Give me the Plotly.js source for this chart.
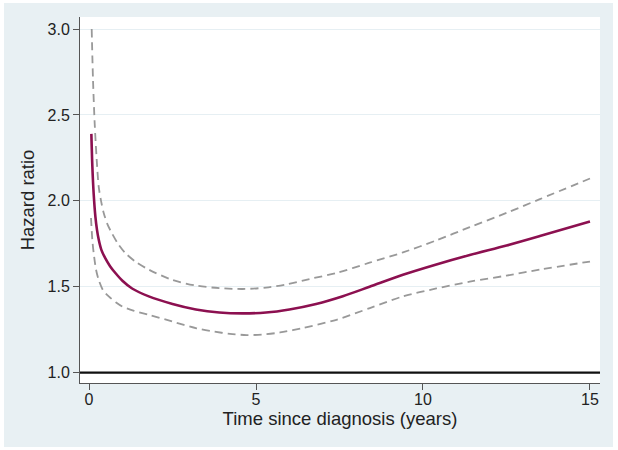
<!DOCTYPE html>
<html>
<head>
<meta charset="utf-8">
<script src="https://cdn.plot.ly/plotly-3.0.1.min.js"></script>
<style>
html,body{margin:0;padding:0;background:#ffffff;width:618px;height:450px;overflow:hidden;}
#chart{position:absolute;left:4px;top:3px;width:609px;height:444px;}
</style>
</head>
<body>
<div id="chart"></div>
<script>
// Hazard ratio estimate
const hrX = [0.07, 0.10, 0.14, 0.19, 0.24, 0.29, 0.37, 0.49, 0.63, 0.79, 1.0, 1.29, 1.79, 2.5, 3.2, 3.9, 4.6, 5.3, 6.0, 6.8, 7.6, 8.4, 9.4, 10.4, 11.4, 12.5, 13.5, 15];
const hrY = [2.39, 2.20, 2.04, 1.91, 1.83, 1.775, 1.715, 1.665, 1.62, 1.58, 1.535, 1.49, 1.444, 1.40, 1.368, 1.350, 1.345, 1.350, 1.368, 1.400, 1.445, 1.50, 1.57, 1.63, 1.685, 1.74, 1.795, 1.88];
// Upper confidence limit
const upX = [0.08, 0.12, 0.17, 0.23, 0.29, 0.36, 0.44, 0.55, 0.69, 0.87, 1.09, 1.4, 1.79, 2.49, 3.2, 3.9, 4.6, 5.3, 5.9, 6.6, 7.4, 8.4, 9.4, 10.4, 11.4, 12.5, 13.5, 15];
const upY = [3.0, 2.7, 2.45, 2.24, 2.083, 2.0, 1.93, 1.865, 1.81, 1.75, 1.696, 1.645, 1.60, 1.54, 1.507, 1.492, 1.487, 1.495, 1.513, 1.545, 1.58, 1.64, 1.70, 1.77, 1.847, 1.93, 2.01, 2.13];
// Lower confidence limit
const loX = [0.06, 0.10, 0.14, 0.21, 0.29, 0.42, 0.59, 0.8, 1.0, 1.35, 1.79, 2.49, 3.22, 3.72, 4.22, 4.72, 5.2, 5.72, 6.41, 7.41, 8.41, 9.4, 10.4, 11.4, 12.5, 13.5, 15];
const loY = [1.90, 1.77, 1.696, 1.60, 1.54, 1.48, 1.444, 1.41, 1.385, 1.36, 1.337, 1.298, 1.258, 1.240, 1.226, 1.219, 1.222, 1.234, 1.26, 1.308, 1.376, 1.444, 1.49, 1.53, 1.565, 1.60, 1.647];

const xTicks = [0, 5, 10, 15];
const xTickText = ['0', '5', '10', '15'];
const yTicks = [1.0, 1.5, 2.0, 2.5, 3.0];
const yTickText = ['1.0', '1.5', '2.0', '2.5', '3.0'];
const refLine = 1.0;

const dashStyle = {color: '#999999', width: 1.8, dash: '8px,5px', shape: 'spline', smoothing: 0.8};

const traces = [
  {x: upX, y: upY, mode: 'lines', line: dashStyle, hoverinfo: 'skip', showlegend: false},
  {x: loX, y: loY, mode: 'lines', line: dashStyle, hoverinfo: 'skip', showlegend: false},
  {x: hrX, y: hrY, mode: 'lines', line: {color: '#8c1050', width: 2.6, shape: 'spline', smoothing: 0.8}, hoverinfo: 'skip', showlegend: false}
];

const fam = 'Liberation Sans, Arial, sans-serif';
const tickFont = {family: fam, size: 16, color: '#222222'};
const titleFont = {family: fam, size: 18.5, color: '#222222'};

const layout = {
  width: 609, height: 444,
  margin: {l: 76, r: 13, t: 14, b: 64},
  paper_bgcolor: '#e8f0f3',
  plot_bgcolor: '#ffffff',
  font: tickFont,
  showlegend: false,
  xaxis: {
    range: [-0.27, 15.3],
    tickvals: xTicks, ticktext: xTickText,
    ticks: 'outside', ticklen: 6, tickwidth: 1, tickcolor: '#555555',
    ticklabelstandoff: -4,
    showline: true, linecolor: '#555555', linewidth: 1,
    showgrid: false, zeroline: false,
    tickfont: tickFont,
    title: {text: 'Time since diagnosis (years)', font: titleFont, standoff: 0}
  },
  yaxis: {
    range: [0.94, 3.07],
    tickvals: yTicks, ticktext: yTickText,
    ticks: 'outside', ticklen: 6, tickwidth: 1, tickcolor: '#555555',
    showline: true, linecolor: '#555555', linewidth: 1,
    showgrid: true, gridcolor: '#e6eff3', gridwidth: 1,
    zeroline: false,
    tickfont: tickFont,
    title: {text: 'Hazard ratio', font: titleFont, standoff: 8}
  },
  shapes: [
    {type: 'line', xref: 'paper', x0: 0, x1: 1, yref: 'y', y0: refLine, y1: refLine, line: {color: '#111111', width: 2.2}, layer: 'above'}
  ]
};

Plotly.newPlot('chart', traces, layout, {displayModeBar: false, staticPlot: true});
</script>
</body>
</html>
